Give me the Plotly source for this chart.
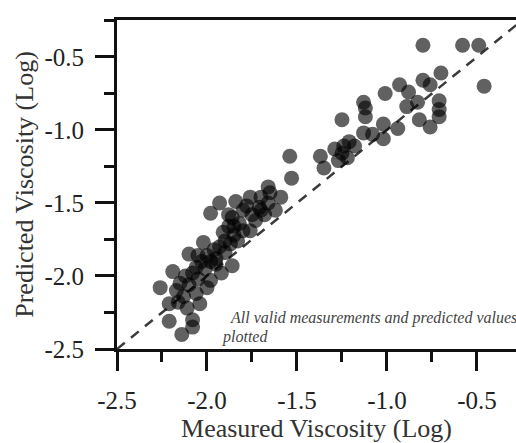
import plotly.graph_objects as go

measured = [
    -0.80, -0.58, -0.49, -0.46, -0.70, -0.80, -0.76, -0.93, -0.88, -1.01,
    -0.89, -0.83, -0.71, -0.71, -0.71, -0.82, -0.76, -1.13, -1.12, -1.12,
    -1.25, -1.02, -0.94, -1.13, -1.02, -1.24, -1.18, -1.29, -1.25, -1.22,
    -1.27, -1.37, -1.35, -1.54, -1.53, -1.21, -1.08,
    -1.66, -1.59, -1.65, -1.70, -1.76, -1.84, -1.71, -1.78, -1.66, -1.62,
    -1.85, -1.76, -1.80, -1.73, -1.68, -1.93, -1.98, -1.88, -1.86, -1.91,
    -2.02, -2.10, -2.19, -2.26, -2.21, -2.04, -2.08, -2.14, -2.21, -1.86,
    -1.92, -1.98,
    -2.17, -2.15, -2.12, -2.10, -2.08, -2.06, -2.05, -2.03, -2.01, -2.00,
    -1.98, -1.96, -1.95, -1.93, -1.90, -1.90, -1.87, -1.85, -1.83, -1.80,
    -1.82, -2.13, -2.16, -2.11, -2.00, -1.95, -2.05, -1.88, -1.75, -1.70,
    -2.08, -2.06,
]
predicted = [
    -0.42, -0.42, -0.42, -0.70, -0.61, -0.66, -0.69, -0.69, -0.74, -0.75,
    -0.84, -0.81, -0.80, -0.86, -0.91, -0.93, -0.98, -0.81, -0.85, -0.91,
    -0.93, -0.96, -0.99, -1.02, -1.06, -1.11, -1.11, -1.13, -1.16, -1.19,
    -1.21, -1.18, -1.26, -1.18, -1.33, -1.08, -1.03,
    -1.39, -1.46, -1.43, -1.46, -1.46, -1.49, -1.53, -1.52, -1.50, -1.55,
    -1.66, -1.69, -1.55, -1.62, -1.58, -1.50, -1.57, -1.58, -1.60, -1.70,
    -1.77, -1.85, -1.97, -2.08, -2.19, -2.19, -2.30, -2.40, -2.31, -1.93,
    -1.98, -2.03,
    -2.10, -2.05, -2.00, -2.06, -1.98, -1.94, -2.02, -1.90, -1.95, -1.86,
    -1.90, -1.82, -1.88, -1.80, -1.84, -1.76, -1.78, -1.72, -1.76, -1.69,
    -1.64, -2.14, -2.18, -2.22, -2.08, -1.92, -1.86, -1.66, -1.58, -1.55,
    -2.35, -2.12,
]

tick_vals = [-2.5, -2.0, -1.5, -1.0, -0.5]
tick_text = ["-2.5", "-2.0", "-1.5", "-1.0", "-0.5"]
identity = [-2.5, -0.2]

serif = "Liberation Serif, Times New Roman, serif"

fig = go.Figure()
fig.add_trace(go.Scatter(
    x=identity, y=identity, mode="lines",
    line=dict(color="#3a3a3a", width=2.5, dash="10px,8px"),
    hoverinfo="skip", showlegend=False,
))
fig.add_trace(go.Scatter(
    x=measured, y=predicted, mode="markers",
    marker=dict(size=15, color="black", opacity=0.62, line=dict(width=0)),
    showlegend=False,
))

axis_common = dict(
    showgrid=False, zeroline=False,
    showline=True, linecolor="#111", linewidth=3,
    ticks="outside", ticklen=19, tickwidth=3, tickcolor="#111",
    tickvals=tick_vals, ticktext=tick_text,
    tickfont=dict(family=serif, size=25, color="#222"),
    minor=dict(ticks="outside", ticklen=10, tickwidth=3, tickcolor="#111", dtick=0.25, tick0=-2.5),
)

fig.update_layout(
    width=516, height=443,
    margin=dict(l=117, r=0, t=20, b=94),
    paper_bgcolor="white", plot_bgcolor="white",
    xaxis=dict(
        range=[-2.5, -0.283], mirror=True,
        title=dict(text="Measured Viscosity (Log)", font=dict(family=serif, size=26, color="#333"), standoff=0),
        ticklabelstandoff=8,
        **axis_common,
    ),
    yaxis=dict(
        range=[-2.5, -0.247],
        title=dict(text="Predicted Viscosity (Log)", font=dict(family=serif, size=26, color="#333"), standoff=4),
        ticklabelstandoff=6,
        **axis_common,
    ),
    annotations=[
        dict(
            x=-1.883, y=-2.288, xref="x", yref="y", xanchor="left", yanchor="middle",
            text="<i>All valid measurements and predicted values</i>",
            showarrow=False, font=dict(family=serif, size=16, color="#444"),
        ),
        dict(
            x=-1.928, y=-2.418, xref="x", yref="y", xanchor="left", yanchor="middle",
            text="<i>plotted</i>",
            showarrow=False, font=dict(family=serif, size=16, color="#444"),
        ),
    ],
)

fig.write_html("out.html")
